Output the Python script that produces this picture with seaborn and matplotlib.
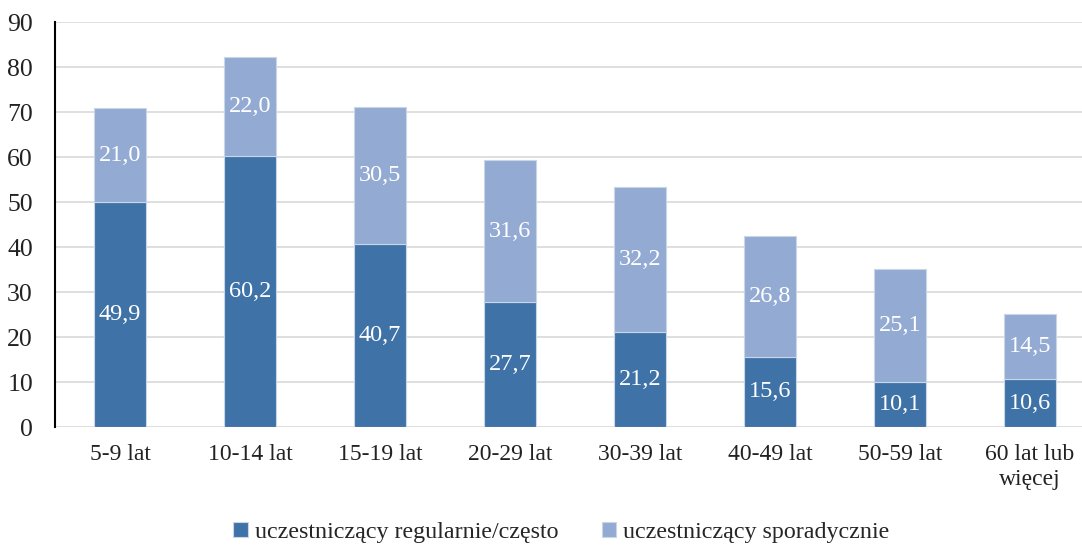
import matplotlib
matplotlib.use('Agg')
import matplotlib.pyplot as plt
import seaborn as sns
import pandas as pd

kategorie = ['5-9 lat', '10-14 lat', '15-19 lat', '20-29 lat', '30-39 lat',
             '40-49 lat', '50-59 lat', '60 lat lub\nwięcej']
regularnie = [49.9, 60.2, 40.7, 27.7, 21.2, 15.6, 10.1, 10.6]
sporadycznie = [21.0, 22.0, 30.5, 31.6, 32.2, 26.8, 25.1, 14.5]

kolor_ciemny = '#3f73a8'
kolor_jasny = '#93aad2'

sns.set_style('white')
plt.rcParams['font.family'] = ['Liberation Serif', 'DejaVu Serif']
plt.rcParams['font.size'] = 17.5

df = pd.DataFrame({'wiek': kategorie, 'reg': regularnie, 'spor': sporadycznie})

fig = plt.figure(figsize=(10.82, 5.45), dpi=100)
ax = fig.add_axes([0.051, 0.2165, 0.949, 0.743])

sns.barplot(data=df, x='wiek', y='reg', color=kolor_ciemny, width=0.4,
            edgecolor='#c9d6e8', linewidth=0.8, saturation=1, ax=ax,
            label='uczestniczący regularnie/często')
sns.barplot(data=df, x='wiek', y='spor', bottom=df['reg'], color=kolor_jasny,
            width=0.4, edgecolor='#c9d6e8', linewidth=0.8, saturation=1, ax=ax,
            label='uczestniczący sporadycznie')

for i, (r, s) in enumerate(zip(regularnie, sporadycznie)):
    ax.text(i, r / 2, f'{r:.1f}'.replace('.', ','), ha='center', va='center',
            color='white', fontsize=17.5)
    ax.text(i, r + s / 2, f'{s:.1f}'.replace('.', ','), ha='center', va='center',
            color='white', fontsize=17.5)

ax.set_ylim(0, 90)
ax.set_yticks(range(0, 91, 10))
ax.set_xlim(-0.5, 7.4)
ax.yaxis.grid(True, color='#d9d9d9', linewidth=1.2)
ax.set_axisbelow(True)
ax.set_xlabel('')
ax.set_ylabel('')
for side in ['top', 'right', 'bottom']:
    ax.spines[side].set_visible(False)
ax.spines['left'].set_color('black')
ax.spines['left'].set_linewidth(1.5)
ax.tick_params(axis='y', length=0, labelsize=18.5, colors='#222222', pad=16)
ax.tick_params(axis='x', length=0, labelsize=17, colors='#222222', pad=12)
for t in ax.get_xticklabels():
    t.set_linespacing(1.27)

ax.legend(loc='lower center', bbox_to_anchor=(0.493, -0.34), ncol=2, frameon=False,
          fontsize=17.3, handlelength=0.6, handleheight=0.6, handletextpad=0.3,
          columnspacing=1.8)

fig.savefig('out.png', dpi=100)
